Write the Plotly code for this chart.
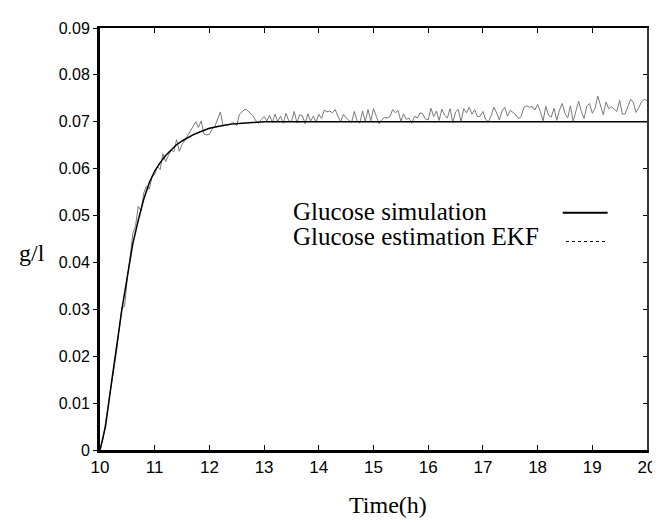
import numpy as np
import plotly.graph_objects as go

# ---- data ----
sim_time = [10.0, 10.1, 10.2, 10.3, 10.4, 10.5, 10.6, 10.7, 10.8, 10.9, 11.0,
            11.1, 11.2, 11.3, 11.4, 11.5, 11.6, 11.7, 11.8, 11.9, 12.0,
            12.2, 12.4, 12.6, 12.8, 13.0, 14.0, 16.0, 18.0, 20.0]
sim_glucose = [0.0000, 0.0050, 0.0135, 0.0220, 0.0300, 0.0370, 0.0440, 0.0490, 0.0535, 0.0570, 0.0595,
               0.0613, 0.0628, 0.0640, 0.0651, 0.0659, 0.0666, 0.0672, 0.0677, 0.0682, 0.0686,
               0.0691, 0.0695, 0.0697, 0.0699, 0.0700, 0.0700, 0.0700, 0.0700, 0.0700]

# EKF estimate, sampled every 0.05 h from 10 h to 20 h
est_glucose = [
    0.0000, 0.0020, 0.0058, 0.0095, 0.0130, 0.0168, 0.0208, 0.0255, 0.0303, 0.0306,
    0.0368, 0.0412, 0.0462, 0.0478, 0.0520, 0.0510, 0.0548, 0.0563, 0.0556, 0.0582, 0.0588,
    0.0605, 0.0598, 0.0632, 0.0615, 0.0628, 0.0640, 0.0636, 0.0662, 0.0637, 0.0652,
    0.0660, 0.0670, 0.0678, 0.0690, 0.0700, 0.0688, 0.0702, 0.0674, 0.0672, 0.0673,
    0.0685, 0.0690, 0.0708, 0.0721, 0.0691, 0.0694, 0.0693, 0.0697, 0.0698, 0.0692,
    0.0716, 0.0722, 0.0727, 0.0724, 0.0717, 0.0712, 0.0702, 0.0697, 0.0705, 0.0711,
    0.0702, 0.0714, 0.0698, 0.0716, 0.0700, 0.0712, 0.0697, 0.0718, 0.0702, 0.0700,
    0.0722, 0.0698, 0.0715, 0.0713, 0.0696, 0.0717, 0.0701, 0.0712, 0.0699, 0.0716,
    0.0707, 0.0725, 0.0721, 0.0723, 0.0719, 0.0726, 0.0712, 0.0700, 0.0716, 0.0708,
    0.0703, 0.0699, 0.0722, 0.0702, 0.0697, 0.0723, 0.0700, 0.0726, 0.0702, 0.0728,
    0.0712, 0.0696, 0.0704, 0.0709, 0.0708, 0.0711, 0.0726, 0.0719, 0.0724, 0.0701,
    0.0717, 0.0705, 0.0708, 0.0697, 0.0712, 0.0708, 0.0719, 0.0717, 0.0706, 0.0704,
    0.0729, 0.0711, 0.0723, 0.0703, 0.0727, 0.0714, 0.0708, 0.0728, 0.0698, 0.0721,
    0.0726, 0.0700, 0.0728, 0.0719, 0.0731, 0.0716, 0.0726, 0.0711, 0.0712, 0.0722,
    0.0705, 0.0700, 0.0713, 0.0731, 0.0719, 0.0704, 0.0723, 0.0731, 0.0712, 0.0724,
    0.0720, 0.0715, 0.0707, 0.0711, 0.0731, 0.0734, 0.0731, 0.0733, 0.0725, 0.0737,
    0.0722, 0.0702, 0.0733, 0.0714, 0.0710, 0.0729, 0.0703, 0.0725, 0.0739, 0.0718,
    0.0708, 0.0734, 0.0701, 0.0720, 0.0744, 0.0722, 0.0707, 0.0733, 0.0739, 0.0718,
    0.0729, 0.0755, 0.0736, 0.0715, 0.0742, 0.0728, 0.0732, 0.0727, 0.0722, 0.0746,
    0.0716, 0.0717, 0.0732, 0.0748, 0.0741, 0.0720, 0.0730, 0.0743, 0.0748, 0.0745,
]
est_time = np.linspace(10.0, 20.0, len(est_glucose))

x_ticks = [10, 11, 12, 13, 14, 15, 16, 17, 18, 19, 20]
y_ticks = [0, 0.01, 0.02, 0.03, 0.04, 0.05, 0.06, 0.07, 0.08, 0.09]
y_tick_labels = ["0", "0.01", "0.02", "0.03", "0.04", "0.05", "0.06", "0.07", "0.08", "0.09"]

legend_labels = ["Glucose simulation", "Glucose estimation EKF"]

SANS = "Liberation Sans, Arial, sans-serif"
SERIF = "Liberation Serif, Times New Roman, serif"

fig = go.Figure()
fig.add_trace(go.Scatter(x=est_time, y=est_glucose, mode="lines",
                         line=dict(color="#7a7a7a", width=1), showlegend=False))
fig.add_trace(go.Scatter(x=sim_time, y=sim_glucose, mode="lines",
                         line=dict(color="black", width=1.5), showlegend=False))
# invisible copy to activate the mirrored top/right axes
fig.add_trace(go.Scatter(x=sim_time, y=sim_glucose, mode="lines", xaxis="x2", yaxis="y2",
                         line=dict(width=0), opacity=0, hoverinfo="skip", showlegend=False))

fig.update_layout(
    width=660, height=524,
    margin=dict(l=92, r=21, t=13, b=82),
    paper_bgcolor="white", plot_bgcolor="white",
    showlegend=False,
    xaxis=dict(range=[10, 20], tickvals=x_ticks, ticks="inside", ticklen=5, tickwidth=1,
               tickcolor="black", showline=True, linewidth=3, linecolor="black",
               showgrid=False, zeroline=False, tickfont=dict(family=SANS, size=17, color="black")),
    yaxis=dict(range=[0, 0.09], tickvals=y_ticks, ticktext=y_tick_labels, ticks="outside",
               ticklen=4, tickwidth=1, tickcolor="black", showline=True, linewidth=3,
               linecolor="black", showgrid=False, zeroline=False,
               tickfont=dict(family=SANS, size=16, color="black")),
    xaxis2=dict(range=[10, 20], overlaying="x", side="top", tickvals=x_ticks, ticks="inside",
                ticklen=5, tickwidth=1, tickcolor="black", showticklabels=False, showline=True,
                linewidth=1.5, linecolor="black", showgrid=False, zeroline=False),
    yaxis2=dict(range=[0, 0.09], overlaying="y", side="right", tickvals=y_ticks, ticks="inside",
                ticklen=4, tickwidth=1, tickcolor="black", showticklabels=False, showline=True,
                linewidth=2, linecolor="#333333", showgrid=False, zeroline=False),
    annotations=[
        dict(text="g/l", x=-0.1243, y=0.468, xref="paper", yref="paper", xanchor="center",
             yanchor="middle", showarrow=False, font=dict(family=SERIF, size=24, color="black")),
        dict(text="Time(h)", x=0.5265, y=-0.13, xref="paper", yref="paper", xanchor="center",
             yanchor="middle", showarrow=False, font=dict(family=SERIF, size=24, color="black")),
        dict(text=legend_labels[0], x=0.35, y=0.566, xref="paper", yref="paper", xanchor="left",
             yanchor="middle", showarrow=False, font=dict(family=SERIF, size=25, color="black")),
        dict(text=legend_labels[1], x=0.35, y=0.507, xref="paper", yref="paper", xanchor="left",
             yanchor="middle", showarrow=False, font=dict(family=SERIF, size=25, color="black")),
    ],
    shapes=[
        dict(type="line", xref="paper", yref="paper", x0=0.846, x1=0.928, y0=0.562, y1=0.562,
             line=dict(color="black", width=2)),
        dict(type="line", xref="paper", yref="paper", x0=0.852, x1=0.928, y0=0.494, y1=0.494,
             line=dict(color="black", width=1, dash="dot")),
    ],
)

fig.write_html("out.html")
